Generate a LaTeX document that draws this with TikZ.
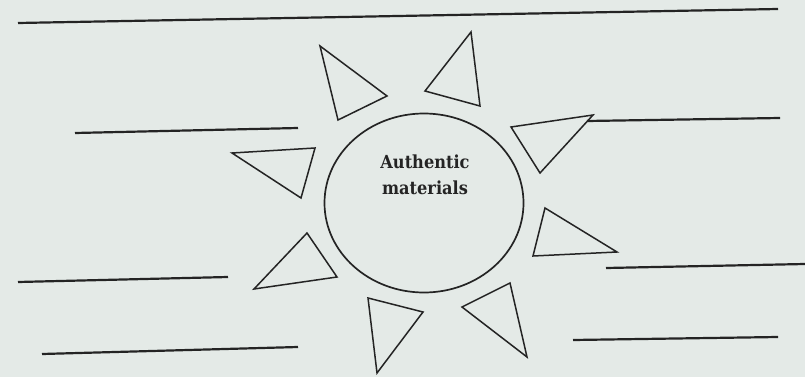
\documentclass[tikz,border=0pt]{standalone}
\usepackage{fontspec}
\setmainfont{DejaVu Serif Condensed}
\usepackage{tikz}
\usetikzlibrary{shapes.geometric}
\definecolor{paper}{HTML}{E4EAE7}
\definecolor{ink}{HTML}{242424}
\tikzset{
  blank/.style={draw=ink, line width=2.2pt},
  ray/.style={draw=ink, line width=1.5pt, line join=miter},
  hub/.style={ellipse, draw=ink, line width=1.7pt, minimum width=199pt, minimum height=179pt, inner sep=0pt},
  hubtext/.style={font=\fontsize{18}{26}\selectfont\bfseries, text=ink, align=center},
}

\begin{document}
\begin{tikzpicture}[x=1pt, y=-1pt]
  \fill[paper] (0,0) rectangle (805,377);
  \useasboundingbox (0,0) rectangle (805,377);

  % Answer lines
  \foreach \xa/\ya/\xb/\yb in {18/23/778/9, 75/133/298/128, 18/282/228/277, 42/354/298/347,
                               587/121/780/118, 606/268/805/264, 573/340/778/337} {
    \draw[blank] (\xa,\ya) -- (\xb,\yb);
  }

  % Sun
  \node[hub] (sun) at (424,203) {};
  \node[hubtext] (title) at (425,175) {Authentic\\materials};

  % Rays
  \foreach \ax/\ay/\bx/\by/\cx/\cy in {320/46/387/96/338/120, 471/32/425/91/480/106,
                                       593/115/511/127/540/173, 545/208/617/252/533/256,
                                       510/283/462/307/527/357, 368/298/423/312/377/373,
                                       307/233/337/277/254/289, 232/153/315/148/301/198} {
    \draw[ray] (\ax,\ay) -- (\bx,\by) -- (\cx,\cy) -- cycle;
  }
\end{tikzpicture}
\end{document}
